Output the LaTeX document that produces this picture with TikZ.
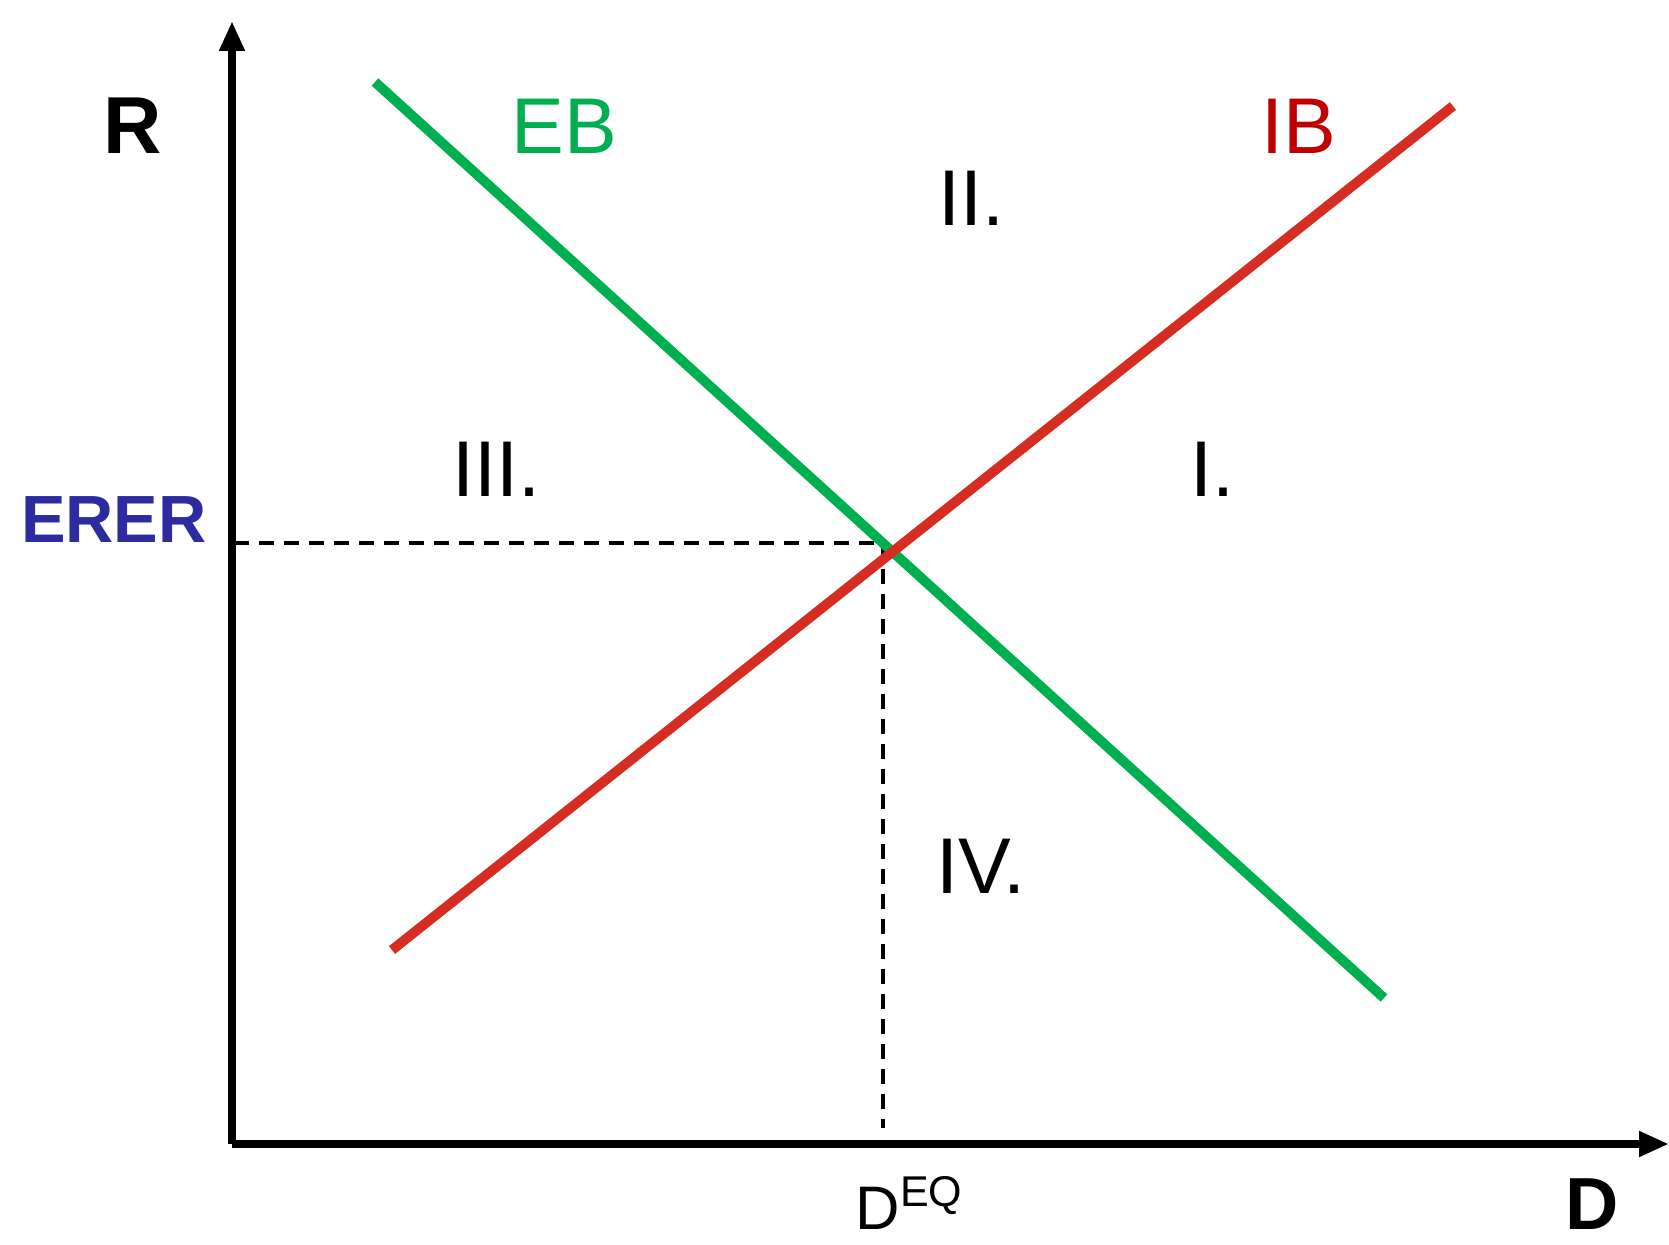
\documentclass[tikz,border=0pt]{standalone}
\usepackage{fontspec}
\setmainfont{Liberation Sans}
\usepackage{tikz}
\usetikzlibrary{arrows.meta}

\definecolor{ebgreen}{RGB}{0,176,80}
\definecolor{ibred}{RGB}{214,45,35}
\definecolor{ibtext}{RGB}{192,0,0}
\definecolor{ererblue}{RGB}{44,44,160}

\begin{document}
\begin{tikzpicture}[
  lbl/.style={font=\fontsize{22.5pt}{26pt}\selectfont, inner sep=0pt, anchor=base},
  axislbl/.style={font=\fontsize{23pt}{26pt}\selectfont\bfseries, inner sep=0pt, anchor=base},
  axis/.style={draw=black, line width=2.4pt, -{Triangle[length=0.3cm,width=0.24cm]}},
  ebline/.style={draw=ebgreen, line width=2.8pt},
  ibline/.style={draw=ibred, line width=2.8pt},
  guide/.style={draw=black, line width=1.3pt, dash pattern=on 0.15cm off 0.1cm}
]
\useasboundingbox (0,0) rectangle (16.69,12.44);

\coordinate (origin) at (2.32, 1.00);
\coordinate (ytop) at (2.32, 12.23);
\coordinate (xend) at (16.69, 1.00);
\coordinate (eb1) at (3.75, 11.62);
\coordinate (eb2) at (13.84, 2.46);
\coordinate (ib1) at (3.92, 2.94);
\coordinate (ib2) at (14.53, 11.38);
\coordinate (eq) at (8.83, 7.01);
\coordinate (erer) at (2.34, 7.01);
\coordinate (deq) at (8.83, 1.16);

\draw[axis] (origin) -- (ytop);
\draw[axis] (origin) -- (xend);
\draw[guide] (erer) -- (eq) -- (deq);
\draw[ebline] (eb1) -- (eb2);
\draw[ibline] (ib1) -- (ib2);

\node[axislbl] (rlab) at (1.33, 10.90) {R};
\node[axislbl, font=\fontsize{21pt}{24pt}\selectfont\bfseries] (dlab) at (15.92, 0.15) {D};
\node[lbl, text=ebgreen] (eblab) at (5.64, 10.90) {EB};
\node[lbl, text=ibtext] (iblab) at (12.99, 10.90) {IB};
\node[lbl] (zone2) at (9.71, 10.18) {II.};
\node[lbl] (zone3) at (4.96, 7.47) {III.};
\node[lbl] (zone1) at (12.12, 7.47) {I.};
\node[lbl] (zone4) at (9.81, 3.50) {IV.};
\node[axislbl, font=\fontsize{19pt}{22pt}\selectfont\bfseries, text=ererblue] (ererlab) at (1.14, 7.01) {ERER};
\node[lbl, font=\fontsize{17.5pt}{20pt}\selectfont] (deqlab) at (9.10, 0.15) {D\textsuperscript{EQ}};

\end{tikzpicture}
\end{document}
